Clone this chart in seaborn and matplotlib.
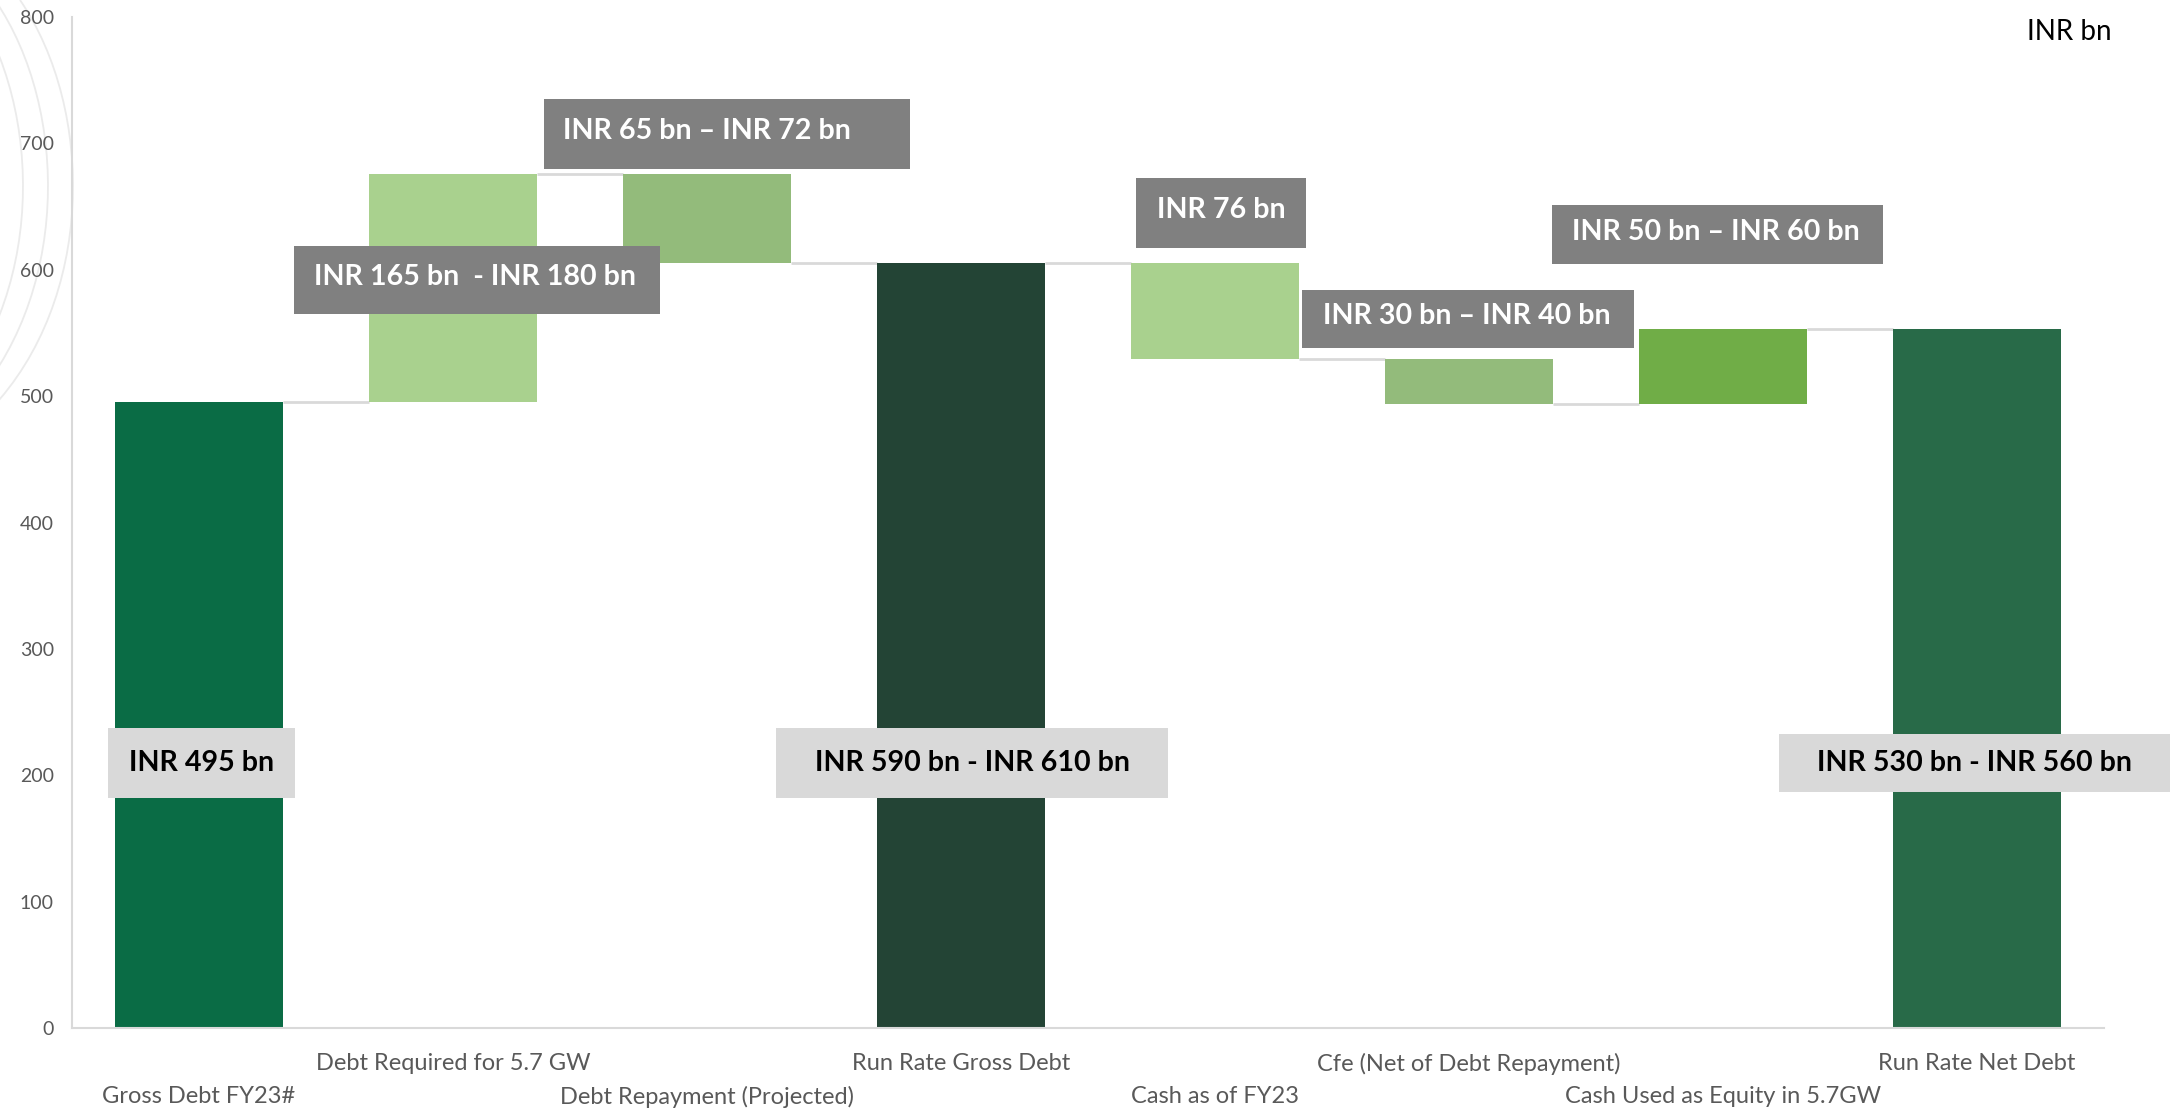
import numpy as np
import pandas as pd
import matplotlib
matplotlib.use("Agg")
import matplotlib.pyplot as plt
import seaborn as sns
from matplotlib.patches import Rectangle, PathPatch
from matplotlib.path import Path

# ---------------- data ----------------
categories = ["Gross Debt FY23#", "Debt Required for 5.7 GW", "Debt Repayment (Projected)",
              "Run Rate Gross Debt", "Cash as of FY23", "Cfe (Net of Debt Repayment)",
              "Cash Used as Equity in 5.7GW", "Run Rate Net Debt"]
changes = [495, 181, -71, 605, -76, -35, 59, 553]
is_total = [True, False, False, True, False, False, False, True]
bar_colors = ["#0A6C45", "#A9D18E", "#93BB7B", "#234435",
              "#A9D18E", "#93BB7B", "#70AD47", "#286A48"]

label_texts = ["INR 495 bn", "INR 165 bn  - INR 180 bn", "INR 65 bn – INR 72 bn",
               "INR 590 bn - INR 610 bn", "INR 76 bn", "INR 30 bn – INR 40 bn",
               "INR 50 bn – INR 60 bn", "INR 530 bn - INR 560 bn"]
# label box extents (x0, x1, y0, y1) in data units, text anchor x, style
label_boxes = [(-0.358, 0.378, 182.0, 237.4), (0.374, 1.815, 565.0, 618.8),
               (1.358, 2.799, 679.7, 735.1), (2.272, 3.815, 182.0, 237.4),
               (3.689, 4.358, 617.2, 672.6), (4.343, 5.650, 538.1, 584.0),
               (5.327, 6.630, 604.5, 651.2), (6.220, 7.764, 186.7, 232.6)]
label_text_x = [None, 0.453, 1.433, None, 3.772, 4.425, 5.406, None]
label_dark = [False, True, True, False, True, True, True, False]

# ---------------- waterfall geometry ----------------
bottoms, heights, levels = [], [], []
level = 0
for v, tot in zip(changes, is_total):
    if tot:
        bottoms.append(0); heights.append(v); level = v
    elif v >= 0:
        bottoms.append(level); heights.append(v); level += v
    else:
        bottoms.append(level + v); heights.append(-v); level += v
    levels.append(level)

df = pd.DataFrame({"category": categories, "height": heights, "bottom": bottoms})

# ---------------- figure ----------------
sns.set_style("white")
plt.rcParams["font.family"] = ["Lato", "DejaVu Sans"]

W, H = 2170, 1111
fig = plt.figure(figsize=(W / 100, H / 100), dpi=100)
fig.patch.set_facecolor("white")

# faint decorative contour lines (top-left watermark)
for k in range(4):
    d = 25 * k
    pts = [(20 - d, 0), (95 - d, 110), (95 - d, 300), (-10 - d, 410)]
    verts = [(x / 100, (H - y) / 100) for x, y in pts]
    path = Path(verts, [Path.MOVETO, Path.CURVE4, Path.CURVE4, Path.CURVE4])
    fig.add_artist(PathPatch(path, fill=False, edgecolor="#EBEBEB", lw=1.3,
                             transform=fig.dpi_scale_trans, zorder=0))

ax = fig.add_axes([72 / W, 83 / H, 2032 / W, 1011 / H])
ax.patch.set_alpha(0)

bar_w = 0.665
sns.barplot(data=df, x="category", y="height", bottom=df["bottom"].values,
            width=bar_w, color=bar_colors[0], saturation=1, errorbar=None,
            linewidth=0, ax=ax, zorder=2)
for patch, c in zip(ax.patches, bar_colors):
    patch.set_facecolor(c)
    patch.set_edgecolor(c)

# connectors
for i in range(len(categories) - 1):
    ax.plot([i + bar_w / 2, i + 1 - bar_w / 2], [levels[i], levels[i]],
            color="#D9D9D9", lw=2, zorder=1, solid_capstyle="butt")

ax.set_xlim(-0.5, 7.5)
ax.set_ylim(0, 800)
ax.set_yticks(range(0, 801, 100))
ax.set_xlabel("")
ax.set_ylabel("")
for s in ["top", "right"]:
    ax.spines[s].set_visible(False)
for s in ["left", "bottom"]:
    ax.spines[s].set_color("#D9D9D9")
    ax.spines[s].set_linewidth(1.5)
ax.tick_params(axis="both", length=0, colors="#595959")
ax.tick_params(axis="y", labelsize=14, pad=13)
ax.tick_params(axis="x", labelsize=17, pad=18)
ax.set_xticks(range(len(categories)))
ax.set_xticklabels(categories)
for i, lbl in enumerate(ax.get_xticklabels()):
    lbl.set_color("#595959")
    if i % 2 == 0:
        lbl.set_y(-0.0326)

# value label boxes
for txt, (x0, x1, y0, y1), tx, dark in zip(label_texts, label_boxes, label_text_x, label_dark):
    fc = "#808080" if dark else "#D9D9D9"
    tc = "white" if dark else "black"
    ax.add_patch(Rectangle((x0, y0), x1 - x0, y1 - y0, facecolor=fc, edgecolor="none",
                           zorder=5, clip_on=False))
    ym = (y0 + y1) / 2
    if tx is None:
        ax.text((x0 + x1) / 2, ym, txt, ha="center", va="center", color=tc,
                fontsize=20.6, fontweight="bold", zorder=6, clip_on=False)
    else:
        ax.text(tx, ym + 2, txt, ha="left", va="center", color=tc,
                fontsize=20.6, fontweight="bold", zorder=6, clip_on=False)

fig.text(2112 / W, 1 - 32 / H, "INR bn", ha="right", va="center",
         fontsize=20, color="black")

fig.savefig("out.png", dpi=100)
